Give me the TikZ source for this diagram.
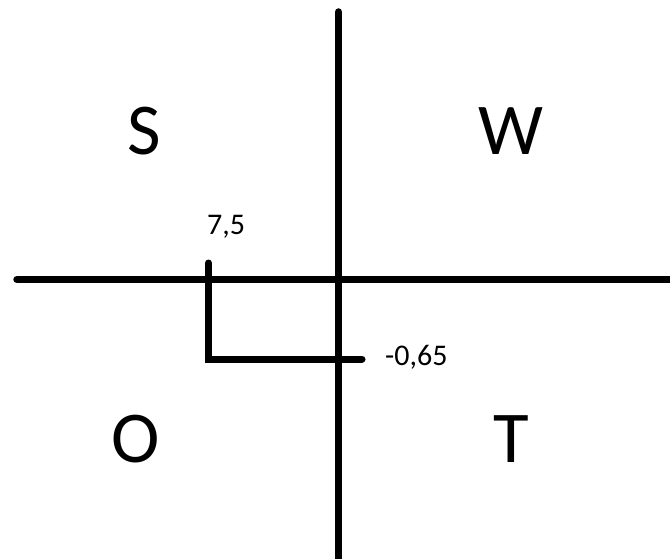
\documentclass[tikz,border=0pt]{standalone}
\usepackage{fontspec}
\setmainfont{Carlito}
\begin{document}
\begin{tikzpicture}[x=1pt,y=-1pt,
  axis/.style={line width=7.5pt,line cap=round},
  bracket/.style={line width=7pt,line cap=round},
  big/.style={font=\fontsize{73}{80}\selectfont,anchor=base,inner sep=0pt},
  small/.style={font=\fontsize{30}{34}\selectfont,anchor=base west,inner sep=0pt}]
\useasboundingbox (0,0) rectangle (670,559);
\coordinate (vtop) at (338.5,12);
\coordinate (vbot) at (338.5,562);
\coordinate (hleft) at (17,279.5);
\coordinate (hright) at (675,279.5);
\coordinate (btop) at (208.5,263);
\coordinate (bcorner) at (208.5,359);
\coordinate (bend) at (362,359);
\draw[axis] (vtop) -- (vbot);
\draw[axis] (hleft) -- (hright);
\draw[bracket] (btop) -- (bcorner) -- (bend);
\node[big] (S) at (144,155) {S};
\node[big] (W) at (511,155) {W};
\node[big] (O) at (136,462) {O};
\node[big] (T) at (511,462) {T};
\node[small] (a) at (207,235) {7,5};
\node[small] (b) at (385,365) {-0,65};
\end{tikzpicture}
\end{document}
